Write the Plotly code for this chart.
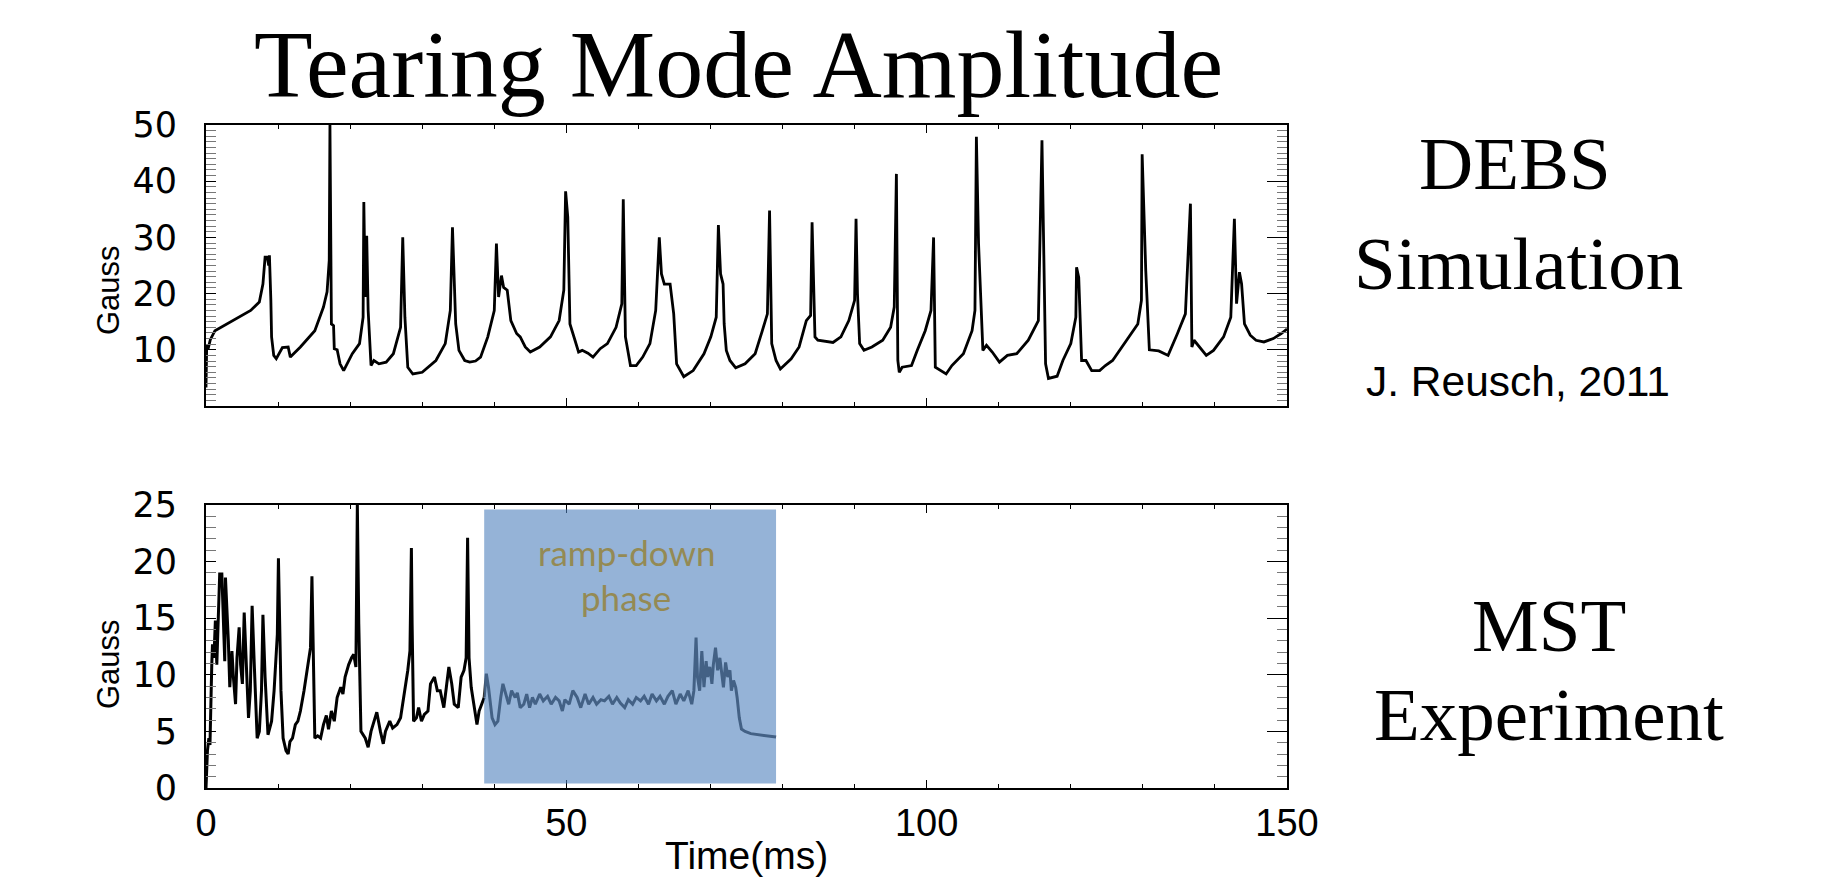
import plotly.graph_objects as go

# ---------------- data ----------------
debs_time = [0.0, 0.1, 0.3, 0.6, 1.24, 3.7, 6.2, 7.4, 7.9, 8.2, 8.5, 8.7, 8.8, 9.0, 9.1, 9.4, 9.75,
             10.6, 11.4, 11.7, 13.1, 15.1, 16.3, 16.8, 17.1, 17.2, 17.4, 17.7, 17.8, 18.2, 18.6, 19.1,
             19.6, 20.3, 21.3, 21.8, 21.9, 22.1, 22.3, 22.5, 22.9, 23.3, 24.0, 25.0, 26.0, 27.0, 27.3,
             27.6, 28.0, 28.7, 30.0, 31.9, 33.2, 33.9, 34.2, 34.4, 34.65, 35.1, 35.9, 36.6, 37.4, 38.1,
             39.1, 40.0, 40.3, 40.6, 41.0, 41.3, 41.8, 42.3, 43.1, 43.6, 44.3, 45.0, 46.3, 47.8, 49.0,
             49.65, 49.9, 50.2, 50.5, 51.2, 51.7, 52.2, 53.0, 53.7, 54.7, 55.7, 56.9, 57.7, 57.9, 58.2,
             58.9, 59.7, 60.6, 61.6, 62.4, 62.9, 63.2, 63.6, 64.4, 64.9, 65.3, 66.3, 67.6, 69.1, 70.05,
             70.8, 71.1, 71.4, 71.75, 71.9, 72.2, 72.7, 73.5, 74.8, 76.2, 77.2, 77.9, 78.2, 78.5, 79.1,
             79.7, 81.2, 82.3, 83.3, 83.9, 84.1, 84.3, 84.5, 84.9, 86.0, 87.0, 88.1, 89.2, 90.0, 90.2,
             90.4, 90.7, 91.3, 92.4, 93.9, 95.0, 95.5, 95.8, 96.0, 96.2, 96.6, 97.9, 98.7, 99.8, 100.6,
             100.96, 101.2, 101.9, 102.7, 103.5, 105.1, 106.3, 106.7, 106.9, 107.2, 107.8, 108.3, 109.1,
             110.1, 111.2, 112.5, 114.1, 115.5, 116.0, 116.5, 116.9, 118.1, 118.9, 120.0, 120.7, 120.8,
             121.1, 121.5, 122.1, 122.9, 124.0, 124.8, 125.8, 127.4, 129.3, 129.8, 129.9, 130.4, 130.9,
             132.2, 133.0, 133.5, 134.8, 135.9, 136.6, 136.8, 137.1, 137.8, 138.8, 139.8, 141.2, 142.2,
             142.7, 143.0, 143.4, 143.7, 144.1, 144.9, 145.7, 146.8, 148.1, 149.2, 150.0]
debs_gauss = [3.3, 11.0, 10.2, 11.8, 13.4, 15.2, 17.0, 18.5, 21.7, 26.5, 26.5, 25.0, 26.8, 18.8, 12.3, 9.0, 8.4,
              10.4, 10.5, 8.7, 10.5, 13.4, 17.6, 20.3, 25.9, 50.0, 14.6, 14.3, 10.2, 10.0, 7.5, 6.3,
              7.5, 9.3, 11.1, 15.8, 36.3, 19.4, 30.3, 17.0, 7.2, 8.1, 7.5, 7.8, 9.3, 14.0, 30.0,
              15.8, 6.9, 5.7, 6.0, 8.1, 11.1, 17.0, 31.8, 22.3, 14.6, 9.9, 8.1, 7.8, 8.0, 8.7,
              12.3, 17.0, 28.9, 19.4, 23.2, 21.1, 20.6, 15.2, 12.9, 12.3, 10.5, 9.6, 10.5, 12.3, 15.2,
              20.6, 38.2, 33.6, 14.6, 11.7, 9.6, 9.9, 9.4, 8.7, 10.2, 11.1, 14.0, 18.2, 36.8, 12.3,
              7.2, 7.2, 8.7, 11.1, 17.0, 30.0, 23.5, 21.7, 21.7, 16.4, 7.5, 5.2, 6.3, 9.3, 12.3,
              15.8, 32.2, 23.5, 21.7, 14.6, 9.9, 8.1, 6.8, 7.5, 9.3, 13.4, 16.4, 34.8, 11.1, 8.1,
              6.6, 8.4, 10.5, 15.2, 16.1, 32.7, 23.5, 12.3, 11.7, 11.5, 11.3, 12.3, 15.2, 18.8, 33.3,
              20.0, 11.1, 9.9, 10.5, 11.7, 14.0, 17.6, 41.3, 8.1, 6.0, 6.9, 7.2, 9.9, 13.4, 17.0,
              30.0, 6.9, 6.3, 5.7, 7.2, 9.3, 13.4, 17.0, 47.9, 28.9, 9.9, 10.8, 9.6,
              7.8, 9.0, 9.3, 11.7, 15.2, 47.3, 7.5, 4.9, 5.3, 8.1, 11.1, 15.8, 24.7,
              22.9, 8.1, 8.1, 6.3, 6.3, 7.2, 8.1, 11.1, 14.6, 18.8, 44.8, 24.1, 10.0,
              9.8, 9.3, 9.0, 12.9, 16.4, 36.0, 10.5, 11.7, 10.5, 9.0, 9.9, 12.3, 15.8,
              33.3, 18.2, 23.8, 21.7, 14.6, 12.6, 11.7, 11.4, 12.0, 12.9, 13.7]

mst_time = [0, 0.2, 0.4, 0.55, 0.8, 0.9, 1.1, 1.3, 1.5, 1.65, 1.9, 2.2, 2.4, 2.6, 2.7, 3.0, 3.1, 3.3, 3.6,
            3.8, 4.1, 4.3, 4.6, 4.8, 5.05, 5.3, 5.6, 5.9, 6.15, 6.4, 6.7, 7.1, 7.4, 7.7, 7.9, 8.2, 8.6,
            9.1, 9.45, 9.9, 10.05, 10.2, 10.4, 10.7, 11.1, 11.4, 11.65, 12.0, 12.4, 12.75, 13.1, 13.6,
            14.1, 14.5, 14.7, 14.9, 15.1, 15.5, 15.9, 16.3, 16.7, 17.0, 17.4, 17.8, 18.2, 18.7, 19.0,
            19.3, 19.8, 20.2, 20.5, 20.8, 21.0, 21.2, 21.3, 21.5, 22.1, 22.5, 22.9, 23.35, 23.7, 24.2,
            24.6, 24.9, 25.5, 25.9, 26.5, 27.0, 27.6, 28.0, 28.3, 28.5, 28.6, 28.8, 29.2, 29.5, 29.9,
            30.3, 30.8, 31.15, 31.7, 32.1, 32.5, 33.0, 33.35, 33.7, 34.1, 34.45, 35.0, 35.4, 35.8,
            36.1, 36.3, 36.5, 36.8, 37.2, 37.6, 37.9, 38.3, 38.6, 38.9, 39.2, 39.7, 40.1, 40.5, 40.9,
            41.2, 41.6, 42.0, 42.4, 42.9, 43.2, 43.6, 44.1, 44.5, 44.9, 45.3, 45.7, 46.3, 46.8, 47.4,
            47.9, 48.5, 49.0, 49.45, 49.8, 50.4, 50.9, 51.5, 52.0, 52.6, 53.1, 53.7, 54.2, 54.8, 55.3,
            55.9, 56.4, 57.0, 57.5, 58.1, 58.6, 59.2, 59.7, 60.3, 60.8, 61.4, 61.9, 62.5, 63.0, 63.6,
            64.1, 64.7, 65.2, 65.8, 66.3, 66.9, 67.4, 67.7, 68.0, 68.2, 68.5, 68.8, 69.1, 69.4, 69.6,
            69.9, 70.2, 70.4, 70.7, 71.0, 71.3, 71.6, 71.8, 72.1, 72.4, 72.7, 72.9, 73.2, 73.5, 73.7,
            74.0, 74.3, 74.8, 75.6, 76.7, 77.8, 79.1]
mst_gauss = [0, 3.3, 4.4, 3.8, 10.9, 12.7, 11.5, 14.8, 10.9, 13.6, 18.9, 18.9, 13.9, 11.2, 18.6, 14.8, 13.0, 8.9, 12.1,
             9.8, 7.4, 11.5, 14.2, 10.9, 9.2, 15.5, 10.7, 6.2, 8.6, 16.1, 10.9, 4.4, 5.0, 8.6, 15.3, 9.8, 4.7,
             5.9, 8.6, 13.6, 20.3, 16.3, 8.6, 4.4, 3.3, 3.0, 4.1, 4.4, 5.6, 5.9, 6.8, 8.6,
             10.9, 12.4, 18.7, 11.5, 4.4, 4.6, 4.4, 5.6, 6.4, 5.2, 6.8, 5.9, 8.0, 8.9, 8.3,
             9.8, 10.9, 11.5, 11.8, 10.7, 25.0, 14.5, 10.4, 5.0, 4.4, 3.6, 5.0, 5.9, 6.7, 5.0,
             3.9, 5.0, 5.9, 5.3, 5.6, 6.2, 8.6, 10.4, 12.1, 21.2, 14.5, 5.9, 6.2, 7.1, 5.9,
             6.5, 6.8, 9.2, 9.8, 8.6, 8.6, 7.1, 8.9, 10.7, 9.2, 7.4, 7.1, 9.8, 10.4,
             11.5, 22.1, 11.5, 8.9, 7.1, 5.6, 6.8, 7.4, 8.0, 10.1, 8.9, 6.2, 5.6, 5.9, 8.0,
             9.2, 8.3, 7.4, 8.6, 8.0, 8.4, 7.1, 7.4, 8.3, 7.1, 8.0, 7.4, 8.3, 7.7, 8.1,
             7.4, 8.0, 7.7, 6.8, 7.8, 7.4, 8.6, 8.0, 7.1, 8.3, 7.4, 8.0, 7.4, 7.8, 7.7,
             8.1, 7.4, 8.0, 7.5, 7.1, 7.8, 7.4, 8.0, 7.7, 8.1, 7.4, 8.3, 7.7, 8.1, 7.4,
             8.1, 8.6, 7.4, 8.3, 7.7, 8.6, 7.4, 8.6, 13.3, 9.8, 8.6, 12.1, 8.9, 11.2, 9.8,
             10.7, 9.2, 10.9, 12.4, 10.4, 11.5, 9.8, 8.9, 11.1, 9.8, 10.4, 8.6, 9.5, 8.9, 8.0,
             6.2, 5.2, 5.0, 4.8, 4.7, 4.6, 4.5]

x_tick_vals = [0, 50, 100, 150]
top_y_ticks = [10, 20, 30, 40, 50]
bottom_y_ticks = [0, 5, 10, 15, 20, 25]
ramp_phase = [38.6, 79.1, 0.4, 24.6]   # t start, t end, gauss low, gauss high

W, H = 1837, 879
XD = [206 / W, 1287 / W]
YD_TOP = [1 - 406 / H, 1 - 125 / H]
YD_BOT = [1 - 788 / H, 1 - 505 / H]

SANS = "Liberation Sans, Arial, sans-serif"
WIDE = "DejaVu Sans, Liberation Sans, sans-serif"
SERIF = "Liberation Serif, Times New Roman, serif"

# split of the MST record at the start of the shaded ramp-down window
split = next(i for i, t in enumerate(mst_time) if t >= ramp_phase[0])

fig = go.Figure()
fig.add_trace(go.Scatter(x=debs_time, y=debs_gauss, mode="lines", xaxis="x", yaxis="y",
                         line=dict(color="black", width=2.8), showlegend=False, hoverinfo="skip"))
fig.add_trace(go.Scatter(x=mst_time[:split + 1], y=mst_gauss[:split + 1], mode="lines",
                         xaxis="x2", yaxis="y2", line=dict(color="black", width=3),
                         showlegend=False, hoverinfo="skip"))
fig.add_trace(go.Scatter(x=mst_time[split:], y=mst_gauss[split:], mode="lines",
                         xaxis="x2", yaxis="y2", line=dict(color="#333333", width=3),
                         showlegend=False, hoverinfo="skip"))
# invisible traces so the right-hand tick axes are drawn
fig.add_trace(go.Scatter(x=[0], y=[0], xaxis="x", yaxis="y3", mode="markers",
                         marker=dict(opacity=0), showlegend=False, hoverinfo="skip"))
fig.add_trace(go.Scatter(x=[0], y=[0], xaxis="x2", yaxis="y4", mode="markers",
                         marker=dict(opacity=0), showlegend=False, hoverinfo="skip"))

xcommon = dict(domain=XD, range=[0, 150], showgrid=False, zeroline=False, showline=True,
               linecolor="black", linewidth=2, mirror="ticks", ticks="inside", tickvals=x_tick_vals,
               ticklen=8, tickwidth=1.2, tickcolor="black", automargin=False,
               minor=dict(dtick=10, ticklen=4, ticks="inside", tickcolor="black", tickwidth=1))
ycommon = dict(showgrid=False, zeroline=False, showline=True, linecolor="black", linewidth=2,
               mirror=True, ticks="inside", ticklen=10, tickwidth=1.2, tickcolor="black",
               tickfont=dict(family=WIDE, size=35, color="black"), ticklabelstandoff=20,
               automargin=False,
               minor=dict(dtick=1, ticklen=10, ticks="inside", tickcolor="#777", tickwidth=1))
yright = dict(showgrid=False, zeroline=False, showline=False, side="right", ticks="inside",
              ticklen=20, tickwidth=1.2, tickcolor="black", showticklabels=False, automargin=False,
              minor=dict(dtick=1, ticklen=10, ticks="inside", tickcolor="#777", tickwidth=1))

fig.update_layout(
    width=W, height=H, margin=dict(l=0, r=0, t=0, b=0, pad=0, autoexpand=False),
    paper_bgcolor="white", plot_bgcolor="white", showlegend=False,
    xaxis=dict(**xcommon, anchor="y", showticklabels=False),
    yaxis=dict(**ycommon, domain=YD_TOP, range=[0, 50], tickvals=top_y_ticks, anchor="x"),
    xaxis2=dict(**xcommon, anchor="y2", showticklabels=True,
                tickfont=dict(family=SANS, size=38, color="black"), ticklabelstandoff=0),
    yaxis2=dict(**ycommon, domain=YD_BOT, range=[0, 25], tickvals=bottom_y_ticks, anchor="x2"),
    yaxis3=dict(**yright, overlaying="y", anchor="x", range=[0, 50], tickvals=[0, 10, 20, 30, 40, 50]),
    yaxis4=dict(**yright, overlaying="y2", anchor="x2", range=[0, 25], tickvals=bottom_y_ticks),
)

fig.add_shape(type="rect", xref="x2", yref="y2", x0=ramp_phase[0], x1=ramp_phase[1],
              y0=ramp_phase[2], y1=ramp_phase[3], fillcolor="rgba(79,129,189,0.6)",
              line=dict(width=0), layer="above")

def note(text, x, y, size, family, color="black", xref="paper", angle=0):
    fig.add_annotation(text=text, x=x, y=y, xref=xref, yref="paper", showarrow=False,
                       xanchor="center", yanchor="middle", textangle=angle,
                       font=dict(family=family, size=size, color=color))

note("Tearing Mode Amplitude", 738.7 / W, 1 - 64.4 / H, 96, SERIF)
note("DEBS", 1514.8 / W, 1 - 164 / H, 75, SERIF)
note("Simulation", 1518.4 / W, 1 - 263.6 / H, 75, SERIF)
note("J. Reusch, 2011", 1518 / W, 1 - 382 / H, 42.5, SANS)
note("MST", 1548.9 / W, 1 - 625.6 / H, 75, SERIF)
note("Experiment", 1548.9 / W, 1 - 714.7 / H, 75, SERIF)
note("Gauss", 108 / W, 1 - 290 / H, 31, SANS, angle=-90)
note("Gauss", 108 / W, 1 - 664 / H, 31, SANS, angle=-90)
note("Time(ms)", 746.5 / W, 1 - 855 / H, 39, SANS)
note("ramp-down", 58.3, 1 - 552 / H, 35, "Lato, sans-serif", color="#948a54", xref="x2")
note("phase", 58.3, 1 - 597 / H, 35, "Lato, sans-serif", color="#948a54", xref="x2")

fig.write_html("out.html", config={"displayModeBar": False})
with open("out.html", "r", encoding="utf-8") as f:
    html = f.read()
html = html.replace("<body>", '<body style="margin:0;padding:0;overflow:hidden">', 1)
with open("out.html", "w", encoding="utf-8") as f:
    f.write(html)
